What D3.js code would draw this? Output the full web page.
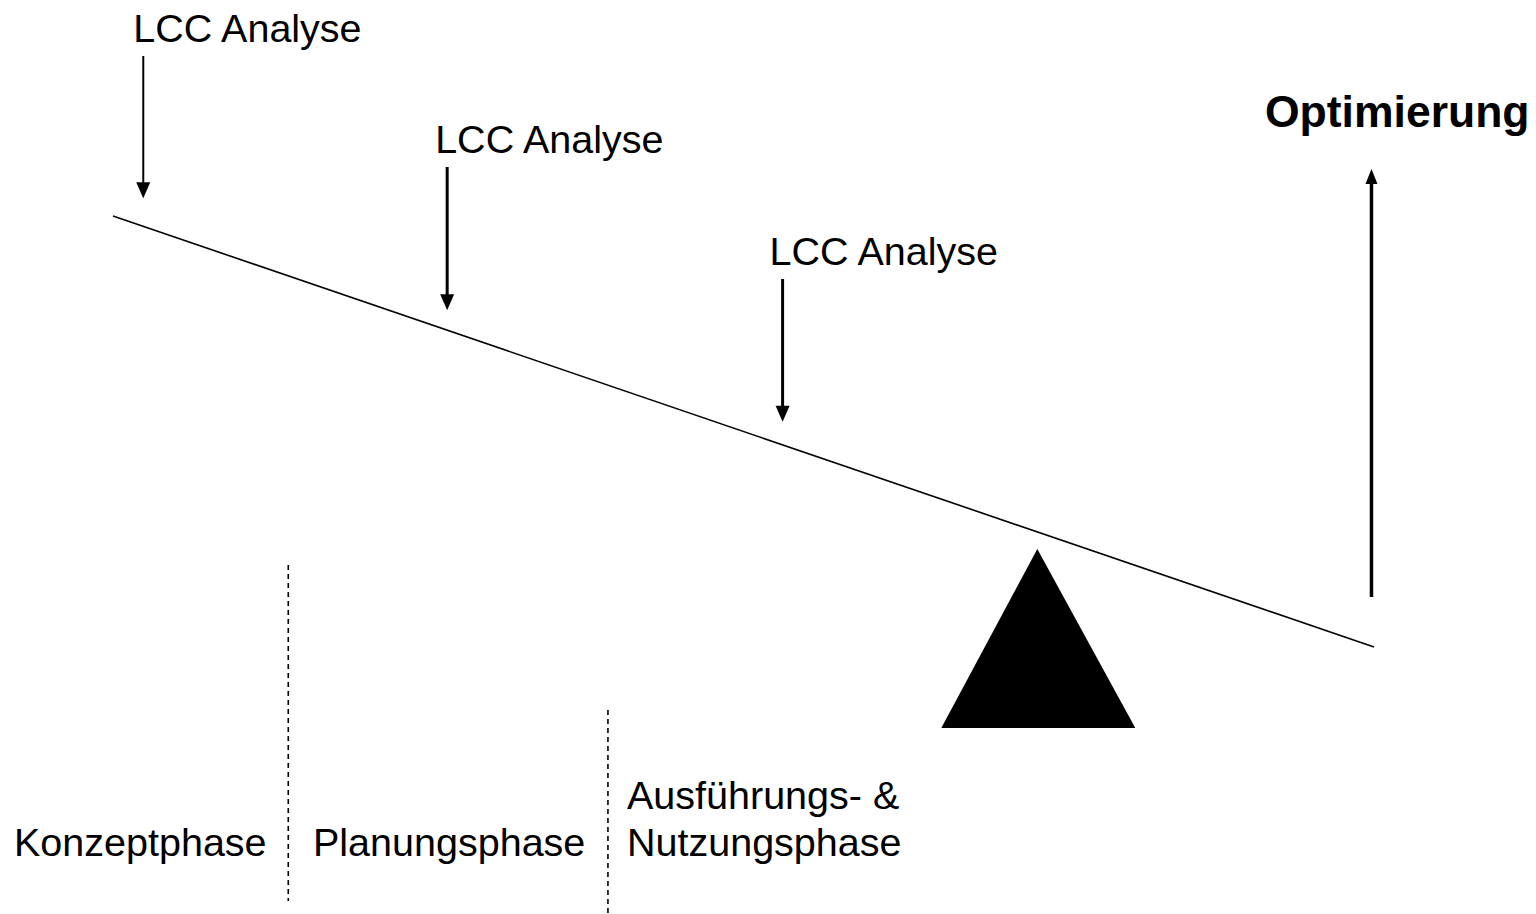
<!DOCTYPE html>
<html><head><meta charset="utf-8">
<script src="https://cdn.jsdelivr.net/npm/d3@7"></script>
<style>html,body{margin:0;padding:0;background:#fff;}svg{display:block;}</style>
</head><body>
<script>
// ---- data (abstract units: life-cycle 0..100, cost influence 0..100) ----
const leverPoints = [{t: 0, v: 100}, {t: 100, v: 0}];
const analysisLabels = ["LCC Analyse", "LCC Analyse", "LCC Analyse"];
const analysisPositions = [2.4, 26.5, 53.1];
const fulcrumPosition = 73.3;
const optimLabel = "Optimierung";
const optimPosition = 99.8;
const phaseLabels = [["Konzeptphase"], ["Planungsphase"], ["Ausführungs- &", "Nutzungsphase"]];
const phaseBoundaries = [13.9, 39.25];

const W = 1536, H = 914;
const svg = d3.select("body").append("svg").attr("width", W).attr("height", H);
const x = d3.scaleLinear().domain([0, 100]).range([113, 1374]);
const y = d3.scaleLinear().domain([0, 100]).range([647, 216]);
const font = "'Liberation Sans', Arial, sans-serif";

// lever
svg.append("path")
  .attr("d", d3.line().x(d => x(d.t)).y(d => y(d.v))(leverPoints))
  .attr("stroke", "#000").attr("stroke-width", 1.6).attr("fill", "none");

// fulcrum triangle
const fx = x(fulcrumPosition);
svg.append("path")
  .attr("d", `M${fx},549 L${fx + 98},728 L${fx - 96},728 Z`)
  .attr("fill", "#000");

// analysis arrows
const lever = t => y(100 - t);
const tops = [56, 167, 279];
const gaps = [28, 20, 23];
const widths = [2, 3, 3];
const labelShift = [-10, -12, -13];
analysisPositions.forEach((p, i) => {
  const ax = x(p);
  const tip = lever(p) - gaps[i];
  svg.append("line").attr("x1", ax).attr("x2", ax).attr("y1", tops[i]).attr("y2", tip - 10)
    .attr("stroke", "#000").attr("stroke-width", widths[i]);
  svg.append("path").attr("d", `M${ax - 7},${tip - 16} L${ax + 7},${tip - 16} L${ax},${tip} Z`).attr("fill", "#000");
  svg.append("text").attr("x", ax + labelShift[i]).attr("y", tops[i] - 14)
    .attr("font-family", font).attr("font-size", 39.5).attr("fill", "#000")
    .text(analysisLabels[i]);
});

// optimisation arrow
const ox = x(optimPosition);
svg.append("line").attr("x1", ox).attr("x2", ox).attr("y1", 597).attr("y2", 180)
  .attr("stroke", "#000").attr("stroke-width", 3.5);
svg.append("path").attr("d", `M${ox - 6},${184} L${ox + 6},${184} L${ox},${169} Z`).attr("fill", "#000");
svg.append("text").attr("x", 1265).attr("y", 127)
  .attr("font-family", font).attr("font-size", 44.5).attr("font-weight", "bold").attr("fill", "#000")
  .text(optimLabel);

// phase boundaries
const bTops = [565, 710];
phaseBoundaries.forEach((b, i) => {
  svg.append("line").attr("x1", x(b)).attr("x2", x(b)).attr("y1", bTops[i]).attr("y2", i === 0 ? 901 : 914)
    .attr("stroke", "#000").attr("stroke-width", 1.6).attr("stroke-dasharray", "5,4");
});

// phase labels
const phaseX = [14, 313, 627];
phaseLabels.forEach((lines, i) => {
  const t = svg.append("text").attr("font-family", font).attr("font-size", 39.5).attr("fill", "#000");
  lines.forEach((l, j) => {
    t.append("tspan").attr("x", phaseX[i]).attr("y", 856 - (lines.length - 1 - j) * 47).text(l);
  });
});
</script>
</body></html>
